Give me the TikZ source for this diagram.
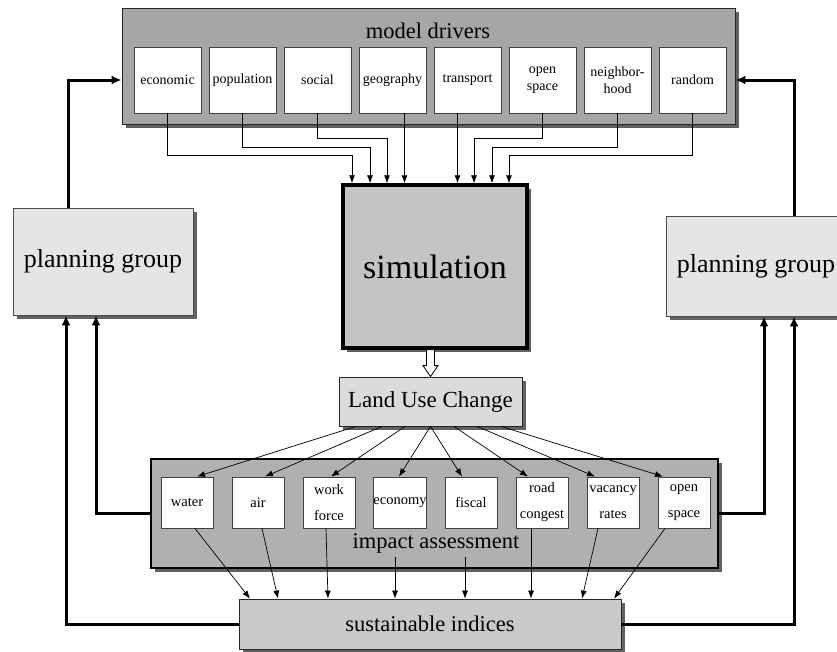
\documentclass[tikz,border=0pt]{standalone}
\usepackage{fontspec}
\setmainfont{Liberation Serif}
\usetikzlibrary{shadows,arrows.meta}

\begin{document}
\begin{tikzpicture}[x=1pt,y=-1pt,
  shadowed/.style={drop shadow={shadow xshift=4pt,shadow yshift=-4pt,fill=black!62,opacity=1}},
  panel/.style={draw=black!85,fill=black!35,line width=0.8pt,inner sep=0pt,shadowed},
  cell/.style={draw=black!75,fill=white,line width=0.9pt,inner sep=0pt,align=center},
  drvcell/.style={cell,minimum width=67pt,minimum height=66pt,font=\fontsize{14}{17}\selectfont},
  impcell/.style={cell,minimum width=52pt,minimum height=51pt,font=\fontsize{14.5}{26}\selectfont},
  feed/.style={-{Latex[length=8pt,width=6pt]},line width=0.7pt},
  fat/.style={-{Latex[length=10pt,width=9pt]},line width=3pt},
  big/.style={font=\fontsize{22.5}{26}\selectfont}]
\useasboundingbox (0,0) rectangle (837,651);

\node[panel,minimum width=613pt,minimum height=116pt] (drv) at (428.5,66) {};
\node[big] (drvtitle) at (428,31) {model drivers};
\foreach \nm/\lbl [count=\i from 0] in {eco/economic,pop/population,soc/social,geo/geography,trn/transport,opn/open\\space,nbh/neighbor-\\hood,rnd/random}
  \node[drvcell] (\nm) at ({167.5+75*\i},80) {\lbl};

\node[draw,line width=3.5pt,fill=black!23,inner sep=0pt,minimum width=184pt,minimum height=163pt,shadowed,font=\fontsize{34}{38}\selectfont] (sim) at (435,266.5) {simulation};
\node[draw=black!85,fill=black!14,line width=0.8pt,inner sep=0pt,minimum width=183pt,minimum height=49pt,shadowed,font=\fontsize{23}{26}\selectfont] (luc) at (430.5,401.5) {Land Use Change};

\node[panel,fill=black!31,draw=black,line width=1.8pt,minimum width=567pt,minimum height=109pt] (imp) at (434.5,513.5) {};
\node[big] (imptitle) at (436,543) {impact assessment};
\foreach \nm/\lbl [count=\i from 0] in {wat/water,air/air,wkf/work\\force,ecn/economy,fis/fiscal,rdc/road\\congest,vac/vacancy\\rates,ops/open\\space}
  \node[impcell] (\nm) at ({187+71*\i},502.5) {\lbl};

\node[draw=black!85,fill=black!21,line width=0.8pt,inner sep=0pt,minimum width=382pt,minimum height=50pt,shadowed,big] (sus) at (430,624) {sustainable indices};

\node[draw=black!70,fill=black!10,line width=0.8pt,inner sep=0pt,minimum width=180pt,minimum height=107pt,shadowed,font=\fontsize{26}{30}\selectfont] (lpg) at (103,261.5) {planning group};
\node[draw=black!70,fill=black!10,line width=0.8pt,inner sep=0pt,minimum width=180pt,minimum height=100pt,shadowed,font=\fontsize{26}{30}\selectfont] (rpg) at (756,266) {planning group};

\foreach \src/\dx/\dy in {eco/-83/42,pop/-65/34,soc/-48/25,opn/39/25,nbh/57/34,rnd/74/42}
  \draw[feed] (\src.south) -- ++(0,\dy) -| ([xshift=\dx pt]sim.north);
\draw[feed] ([xshift=12pt]geo.south) -- ([xshift=12pt]geo.south |- sim.north);
\draw[feed] ([xshift=-10pt]trn.south) -- ([xshift=-10pt]trn.south |- sim.north);

\coordinate (hs) at (sim.south -| luc.north);
\draw[fill=white,line width=0.8pt] ([xshift=-4pt]hs) -- ([xshift=-4pt,yshift=11pt]luc.north) -- ([xshift=-7.5pt,yshift=11pt]luc.north) -- (luc.north) -- ([xshift=7.5pt,yshift=11pt]luc.north) -- ([xshift=4pt,yshift=11pt]luc.north) -- ([xshift=4pt]hs) -- cycle;

\foreach \dst/\sx/\tx in {wat/-74.5/10,air/-48.5/7,wkf/-25.5/2,ecn/0/-1,fis/0/-9,rdc/23.5/-14,vac/46.5/-18,ops/70.5/-21}
  \draw[feed] ([xshift=\sx pt]luc.south) -- ([xshift=\tx pt]\dst.north);

\foreach \src/\sx/\tx in {wat/8/-180,air/4/-152,wkf/-3/-102,rdc/-11/101,vac/-15/152,ops/-19/184}
  \draw[feed] ([xshift=\sx pt]\src.south) -- ([xshift=\tx pt]sus.north);
\draw[feed] ([xshift=-5pt,yshift=-29pt]ecn.south) -- ([xshift=-35pt]sus.north);
\draw[feed] ([xshift=-6pt,yshift=-29pt]fis.south) -- ([xshift=35pt]sus.north);

\draw[fat] (imp.west) -| ([xshift=-7pt]lpg.south);
\draw[fat] (sus.west) -| ([xshift=-37pt]lpg.south);
\draw[fat] ([xshift=-35pt]lpg.north) |- (drv.west |- eco.west);
\draw[fat] (imp.east) -| ([xshift=8pt]rpg.south);
\draw[fat] (sus.east) -| ([xshift=38pt]rpg.south);
\draw[fat] ([xshift=38pt]rpg.north) |- (drv.east |- rnd.east);
\end{tikzpicture}
\end{document}
